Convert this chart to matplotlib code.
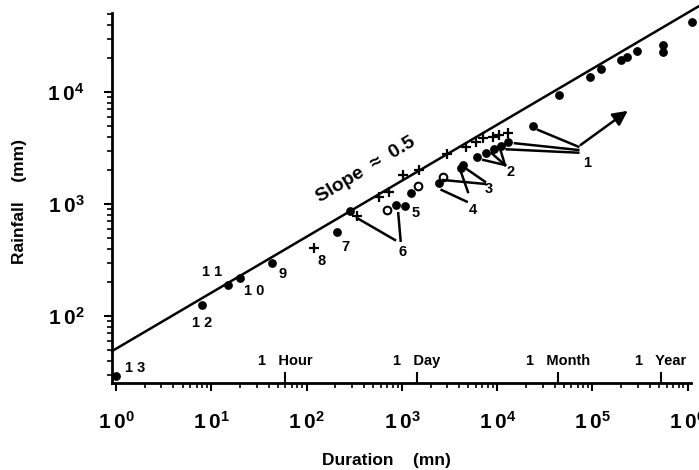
import matplotlib
matplotlib.use('Agg')
import matplotlib.pyplot as plt
import matplotlib.ticker as tck
import numpy as np

# fonts: bold helvetica-like everywhere
plt.rcParams['font.family'] = ['Liberation Sans', 'DejaVu Sans']
plt.rcParams['font.weight'] = 'bold'
plt.rcParams['mathtext.fontset'] = 'custom'
plt.rcParams['mathtext.rm'] = 'Liberation Sans:bold'
plt.rcParams['mathtext.bf'] = 'Liberation Sans:bold'

# record rainfalls (filled dots)
dot_dur = [1, 8, 15, 20, 43, 210, 285, 870, 1090, 1250, 2470, 4170, 4410,
           6100, 7570, 9250, 10900, 12900, 23900, 44600, 94200, 122800,
           199000, 232000, 291000, 545000, 553000, 1115000]
dot_rain = [29, 125, 190, 218, 300, 560, 865, 973, 960, 1253, 1531, 2084, 2229,
            2612, 2838, 3079, 3316, 3556, 5000, 9400, 13600, 16030,
            19300, 20400, 23400, 22900, 26300, 41900]

# open circles
open_dur = [703, 1476, 2720]
open_rain = [884, 1449, 1754]

# crosses
cross_dur = [120, 341, 579, 738, 1035, 1523, 2951, 4707, 5998, 7150, 8970, 10520, 13090]
cross_rain = [402, 787, 1161, 1288, 1815, 2014, 2793, 3250, 3600, 3863, 3990, 4130, 4280]

# envelope line R = a * D^0.5
env_a = 51
env_slope = 0.5

# point labels
ann_text = ['1', '2', '3', '4', '5', '6', '7', '8', '9', '1 0', '1 1', '1 2', '1 3']
ann_dur = [86900, 13860, 8260, 5610, 1406, 1019, 257, 144, 56, 28, 10.3, 8.1, 1.58]
ann_rain = [2307, 1941, 1352, 884, 836, 375, 410, 312, 237, 167, 249, 86, 34.5]

# leader lines (duration, rainfall) start -> end
leaders = [
    ((26900, 4580), (71000, 3250)),
    ((15380, 3485), (71000, 3035)),
    ((12590, 3077), (71000, 2870)),
    ((7150, 2473), (12080, 2229)),
    ((8750, 2838), (12080, 2229)),
    ((10700, 3143), (12080, 2229)),
    ((4410, 2153), (7450, 1581)),
    ((2718, 1637), (7450, 1510)),
    ((4170, 1931), (4940, 1279)),
    ((2612, 1334), (4786, 1050)),
    ((338, 750), (847, 477)),
    ((916, 826), (971, 470)),
]
arrow_from = (71000, 3250)
arrow_to = (247400, 7020)

# time markers on the duration axis
time_dur = [60, 1440, 43200, 525600]
time_lab = ['1   Hour', '1   Day', '1   Month', '1   Year']

x_ticks = [1e0, 1e1, 1e2, 1e3, 1e4, 1e5, 1e6]
y_ticks = [1e2, 1e3, 1e4]

fig = plt.figure(figsize=(6.99, 4.70), dpi=100)
ax = fig.add_axes([112/699, 87/470, 578.6/699, 370/470])
ax.set_xscale('log')
ax.set_yscale('log')
ax.set_xlim(10**-0.042, 10**6.03)
ax.set_ylim(10**1.402, 10**4.705)

for s in ['top', 'right']:
    ax.spines[s].set_visible(False)
for s in ['left', 'bottom']:
    ax.spines[s].set_linewidth(2.0)

# envelope
xd = np.array([10**-0.042, 10**6.11])
ax.plot(xd, env_a * xd**env_slope, color='black', lw=1.8, clip_on=False)

ax.plot(dot_dur, dot_rain, 'o', color='black', ms=5.3, clip_on=False)
ax.plot(open_dur, open_rain, 'o', mfc='white', mec='black', mew=1.5, ms=5.5)
ax.plot(cross_dur, cross_rain, '+', color='black', ms=7.5, mew=1.6)

for (p0, p1) in leaders:
    ax.plot([p0[0], p1[0]], [p0[1], p1[1]], color='black', lw=1.8)
ax.annotate('', xy=arrow_to, xytext=arrow_from,
            arrowprops=dict(arrowstyle='-|>', lw=1.8, color='black', mutation_scale=22))

for t, d, r in zip(ann_text, ann_dur, ann_rain):
    ax.text(d, r, t, fontsize=10.5, fontweight='bold', ha='center', va='center')

ax.text(420, 2030, 'Slope  \u2248  0.5', fontsize=14, fontweight='bold',
        rotation=31, ha='center', va='center', rotation_mode='anchor')

# time markers
trans = ax.get_xaxis_transform()
for d, lab in zip(time_dur, time_lab):
    ax.plot([d, d], [0, 0.027], color='black', lw=1.5, transform=trans)
    ax.text(d, 0.06, lab, fontsize=10.5, fontweight='bold', ha='center', va='center',
            transform=trans)

# ticks
ax.xaxis.set_major_locator(tck.FixedLocator(x_ticks))
ax.yaxis.set_major_locator(tck.FixedLocator(y_ticks))
ax.xaxis.set_minor_locator(tck.LogLocator(base=10, subs=np.arange(2, 10)))
ax.yaxis.set_minor_locator(tck.LogLocator(base=10, subs=np.arange(2, 10)))
ax.xaxis.set_minor_formatter(tck.NullFormatter())
ax.yaxis.set_minor_formatter(tck.NullFormatter())
fmt = tck.FuncFormatter(lambda v, p: r'$\mathbf{1\,0^{%d}}$' % int(round(np.log10(v))))
ax.xaxis.set_major_formatter(fmt)
ax.yaxis.set_major_formatter(fmt)
ax.tick_params(which='major', direction='out', length=6, width=1.5, labelsize=15, pad=14)
ax.tick_params(which='minor', direction='out', length=3.5, width=1.2)

ax.set_xlabel('Duration    (mn)', fontsize=12.5, fontweight='bold')
ax.set_ylabel('Rainfall    (mm)', fontsize=12.5, fontweight='bold')
ax.xaxis.set_label_coords(0.4736, -0.19)
ax.yaxis.set_label_coords(-0.147, 0.49)

fig.savefig('out.png', dpi=100)
